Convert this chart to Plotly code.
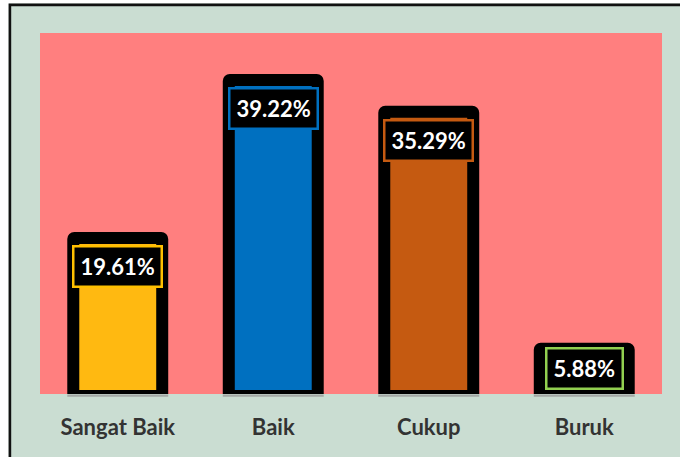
import plotly.graph_objects as go

# Survey result categories and their shares (percent)
categories = ["Sangat Baik", "Baik", "Cukup", "Buruk"]
percentages = [19.61, 39.22, 35.29, 5.88]
value_labels = ["19.61%", "39.22%", "35.29%", "5.88%"]

bar_colors = ["#FFB911", "#0070C0", "#C55A11", "#92D050"]
label_border_colors = ["#FFC000", "#0070C0", "#C55A11", "#92D050"]

# Page geometry
W, H = 680, 457
MARGIN = dict(l=40, r=18, t=33, b=63)
PX_PER_UNIT = 8.057
Y_MIN = 0.25          # bar base sits just below the plot's lower edge
plot_w = W - MARGIN["l"] - MARGIN["r"]
plot_h = H - MARGIN["t"] - MARGIN["b"]
Y_RANGE = [Y_MIN, Y_MIN + plot_h / PX_PER_UNIT]

BAR_WIDTH = 0.572
OUTLINE = 12      # black bar outline width (px)
LABEL_BOX_H = 39  # approximate rendered height of a value label box (px)
LABEL_GAP = 7     # gap between bar top and label box (px)


def px_x(px):
    """Convert a horizontal pixel position to paper coordinates."""
    return (px - MARGIN["l"]) / plot_w


def px_y(py):
    """Convert a vertical pixel position (from top) to paper coordinates."""
    return (H - MARGIN["b"] - py) / plot_h


fig = go.Figure()

fig.add_trace(go.Bar(
    x=categories,
    y=percentages,
    width=BAR_WIDTH,
    marker=dict(
        color=bar_colors,
        line=dict(color="black", width=OUTLINE),
        cornerradius=1,
    ),
    hoverinfo="skip",
))

# Value labels: boxed, placed just inside the top of each bar; short bars
# get their label resting on the bar base instead.
annotations = []
for cat, val, txt, bc in zip(categories, percentages, value_labels, label_border_colors):
    bar_px = val * PX_PER_UNIT - OUTLINE / 2
    common = dict(
        x=cat, xref="x", yref="y", text=txt, showarrow=False,
        font=dict(family="Lato", size=22, color="white", weight="bold"),
        bgcolor="black", bordercolor=bc, borderwidth=2.5, borderpad=6,
        height=26, valign="middle",
    )
    if bar_px >= LABEL_BOX_H + LABEL_GAP + OUTLINE / 2:
        annotations.append(dict(common, y=val, yanchor="top", yshift=-LABEL_GAP))
    else:
        annotations.append(dict(common, y=Y_MIN, yanchor="bottom",
                                yshift=OUTLINE / 2 - Y_MIN * PX_PER_UNIT))

# Chart frame: white page, dark border along left and top edges
shapes = [
    dict(type="rect", xref="paper", yref="paper", layer="above",
         x0=px_x(-20), x1=px_x(8.6), y0=px_y(H + 20), y1=px_y(-20),
         fillcolor="white", line=dict(width=0)),
    dict(type="rect", xref="paper", yref="paper", layer="above",
         x0=px_x(-20), x1=px_x(W + 20), y0=px_y(3.6), y1=px_y(-20),
         fillcolor="white", line=dict(width=0)),
    dict(type="rect", xref="paper", yref="paper", layer="above",
         x0=px_x(9.9), x1=px_x(W + 20), y0=px_y(H + 20), y1=px_y(4.9),
         fillcolor="rgba(0,0,0,0)", line=dict(color="#111111", width=2.6)),
]

# Soft grey base shadow under each bar's outline
half_outer = BAR_WIDTH / 2 + (OUTLINE / 2) / (plot_w / len(categories))
for i in range(len(categories)):
    shapes.append(dict(
        type="line", xref="x", yref="paper", layer="above",
        x0=i - half_outer, x1=i + half_outer,
        y0=px_y(395.6), y1=px_y(395.6),
        line=dict(color="#A3A8A5", width=2.2),
    ))

fig.update_layout(
    width=W, height=H,
    margin=MARGIN,
    paper_bgcolor="#CADDD2",
    plot_bgcolor="#FF7F7F",
    showlegend=False,
    bargap=0.3,
    annotations=annotations,
    shapes=shapes,
    xaxis=dict(
        showgrid=False, showline=False, zeroline=False, ticks="",
        tickfont=dict(family="Lato", size=22, color="#333333", weight="bold"),
        ticklabelstandoff=18,
        fixedrange=True,
    ),
    yaxis=dict(
        range=Y_RANGE, visible=False, showgrid=False, zeroline=False,
        fixedrange=True,
    ),
)

fig.write_html("out.html")
